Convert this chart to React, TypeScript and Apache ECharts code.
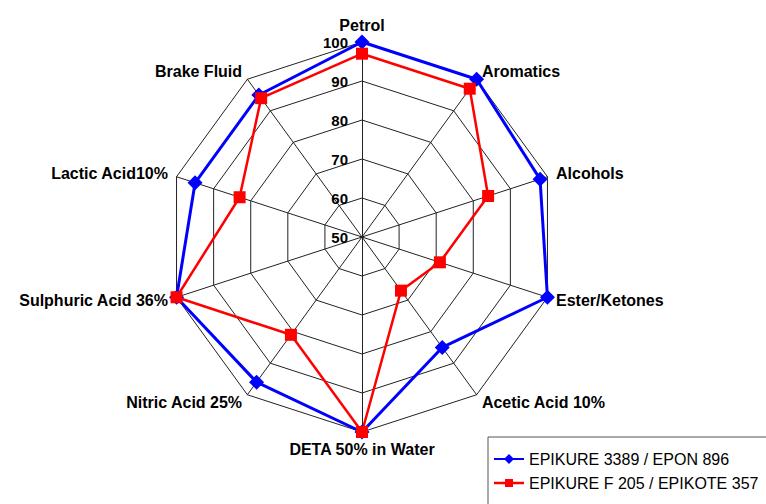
import { useEffect, useRef } from "react";
import * as echarts from "echarts";

const categories = [
  "Petrol",
  "Aromatics",
  "Alcohols",
  "Ester/Ketones",
  "Acetic Acid 10%",
  "DETA 50% in Water",
  "Nitric Acid 25%",
  "Sulphuric Acid 36%",
  "Lactic Acid10%",
  "Brake Fluid",
];
const seriesNames = ["EPIKURE 3389 / EPON 896", "EPIKURE F 205 / EPIKOTE 357"];
const epikure3389 = [100, 100, 98, 100, 85, 100, 96, 100, 95, 95];
const epikureF205 = [97, 97, 84, 71, 67, 100, 81, 100, 83, 94];
const scaleMin = 50;
const scaleMax = 100;
const scaleSplits = 5;

const FONT = 'Arial, "Liberation Sans", sans-serif';

// ECharts lays radar indicators counter-clockwise; the reference runs clockwise.
const ccw = <T,>(arr: T[]): T[] => [arr[0], ...arr.slice(1).reverse()];

const blueIcon =
  "path://M0,0 M30,14 M0,6 L11,6 L15,2 L19,6 L30,6 L30,8 L19,8 L15,12 L11,8 L0,8 Z";
const redIcon =
  "path://M0,0 M30,14 M0,5.8 L11,5.8 L11,3 L19,3 L19,5.8 L30,5.8 L30,8.2 L19,8.2 L19,11 L11,11 L11,8.2 L0,8.2 Z";

export default function App() {
  const ref = useRef<HTMLDivElement>(null);
  useEffect(() => {
    if (!ref.current) return;
    const chart = echarts.init(ref.current, undefined, { renderer: "svg" });
    const indicators = ccw(categories).map((name, i) => ({
      name,
      min: scaleMin,
      max: scaleMax,
      ...(i === 0
        ? {
            axisLabel: {
              show: true,
              color: "#000",
              fontWeight: "bold",
              fontSize: 15,
              fontFamily: FONT,
              margin: 14,
            },
          }
        : {}),
    }));
    chart.setOption({
      animation: false,
      backgroundColor: "#fff",
      radar: {
        center: [362, 237],
        radius: 195,
        startAngle: 90,
        shape: "polygon",
        splitNumber: scaleSplits,
        nameGap: 9,
        axisName: {
          color: "#000",
          fontWeight: "bold",
          fontSize: 16,
          fontFamily: FONT,
        },
        splitLine: { lineStyle: { color: "#222", width: 1 } },
        splitArea: { show: false },
        axisLine: { lineStyle: { color: "#222", width: 1 } },
        axisTick: { show: false },
        axisLabel: { show: false },
        indicator: indicators,
      },
      legend: {
        orient: "vertical",
        left: 488,
        top: 437,
        height: 200,
        width: 400,
        padding: [14, 40, 30, 6],
        itemWidth: 30,
        itemHeight: 14,
        itemGap: 8,
        borderColor: "#555",
        borderWidth: 1,
        selectedMode: false,
        textStyle: { fontSize: 16, color: "#000", fontFamily: FONT },
        data: [
          { name: seriesNames[0], icon: blueIcon },
          { name: seriesNames[1], icon: redIcon },
        ],
      },
      series: [
        {
          type: "radar",
          data: [
            {
              name: seriesNames[0],
              value: ccw(epikure3389),
              symbol: "diamond",
              symbolSize: 15,
              lineStyle: { color: "#0000ff", width: 3 },
              itemStyle: { color: "#0000ff" },
            },
            {
              name: seriesNames[1],
              value: ccw(epikureF205),
              symbol: "rect",
              symbolSize: 12,
              lineStyle: { color: "#ff0000", width: 2.5 },
              itemStyle: { color: "#ff0000" },
            },
          ],
        },
      ],
    });
    return () => chart.dispose();
  }, []);
  return (
    <div
      ref={ref}
      style={{ position: "fixed", left: 0, top: 0, width: 766, height: 504 }}
    />
  );
}
